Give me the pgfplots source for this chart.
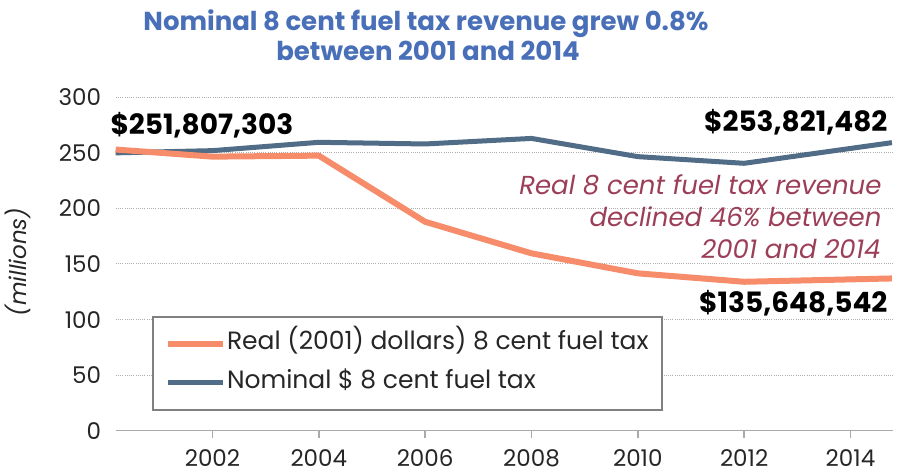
\documentclass[border=0pt]{standalone}
\usepackage{fontspec}
\setmainfont{Poppins}
\usepackage{pgfplots}
\pgfplotsset{compat=1.18}
\definecolor{realc}{RGB}{246,140,106}
\definecolor{nomc}{RGB}{80,108,134}
\definecolor{titleblue}{RGB}{72,111,184}
\definecolor{annot}{RGB}{156,62,88}
\definecolor{gridc}{RGB}{175,175,175}
\definecolor{legbox}{RGB}{128,128,128}
\definecolor{axisgray}{RGB}{170,170,170}
\begin{document}
\begin{tikzpicture}
\useasboundingbox (0pt,0pt) rectangle (898pt,474pt);
\begin{axis}[
  at={(115.7pt,43.3pt)}, anchor=south west,
  scale only axis, width=777.3pt, height=333.4pt,
  xmin=2000.18, xmax=2014.8, ymin=0, ymax=300,
  xtick={2002,2004,...,2014}, ytick={0,50,...,300},
  axis x line*=bottom, axis y line*=left,
  x axis line style={axisgray, line width=1.5pt},
  y axis line style={draw=none},
  xtick align=outside, major tick length=7pt,
  xtick style={axisgray, line width=1.5pt},
  ytick style={draw=none},
  ymajorgrids, grid style={gridc, line width=1pt, dash pattern=on 1pt off 1.2pt},
  /pgf/number format/assume math mode=true,
  tick label style={font=\fontsize{23}{27}\selectfont, text=black!85, inner sep=0pt},
  xticklabel style={anchor=base, yshift=-28.5pt, /pgf/number format/1000 sep={}},
  yticklabel style={anchor=east, xshift=-14.5pt},
  legend style={at={(0.0467,0.0591)}, anchor=south west, draw=legbox, line width=2pt,
    fill=white, font=\fontsize{25}{29}\selectfont, text=black!85,
    inner xsep=12pt, inner ysep=14pt, row sep=13pt,
    nodes={inner sep=1pt, text height=18pt, text depth=6pt}},
  legend cell align=left,
  legend image code/.code={\draw[#1] (0pt,0pt) -- (55pt,0pt);},
  reverse legend,
  clip=false,
]
\addplot[nomc, line width=5pt, line join=round] coordinates {
 (2000.18,250) (2002,252) (2004,259.5) (2006,258) (2008,263) (2010,246.6) (2012,240.6) (2014.78,259.2)};
\addlegendentry{Nominal \$ 8 cent fuel tax}
\addplot[realc, line width=6pt, line join=round] coordinates {
 (2000.18,253) (2002,246.6) (2004,247.5) (2006,188) (2008,159.6) (2010,141.6) (2012,134) (2014.78,137)};
\addlegendentry{Real (2001) dollars) 8 cent fuel tax}
\end{axis}
\node[anchor=base, text=titleblue, font=\fontsize{26}{31}\selectfont\bfseries] at (426pt,443pt) {Nominal 8 cent fuel tax revenue grew 0.8\%};
\node[anchor=base, text=titleblue, font=\fontsize{26}{31}\selectfont\bfseries] at (428pt,413pt) {between 2001 and 2014};
\node[anchor=base west, font=\fontsize{28}{33}\selectfont\bfseries] at (107pt,339pt) {\$251,807,303};
\node[anchor=base east, font=\fontsize{28}{33}\selectfont\bfseries] at (891pt,342pt) {\$253,821,482};
\node[anchor=base east, font=\fontsize{28}{33}\selectfont\bfseries] at (891pt,161pt) {\$135,648,542};
\node[anchor=base east, text=annot, font=\fontsize{26}{31}\selectfont\itshape] at (885pt,279pt) {Real 8 cent fuel tax revenue};
\node[anchor=base east, text=annot, font=\fontsize{26}{31}\selectfont\itshape] at (885pt,247.3pt) {declined 46\% between};
\node[anchor=base east, text=annot, font=\fontsize{26}{31}\selectfont\itshape] at (884pt,215.7pt) {2001 and 2014};
\node[rotate=90, text=black!85, font=\fontsize{23}{27}\selectfont\itshape] at (18pt,212pt) {(millions)};
\end{tikzpicture}
\end{document}
